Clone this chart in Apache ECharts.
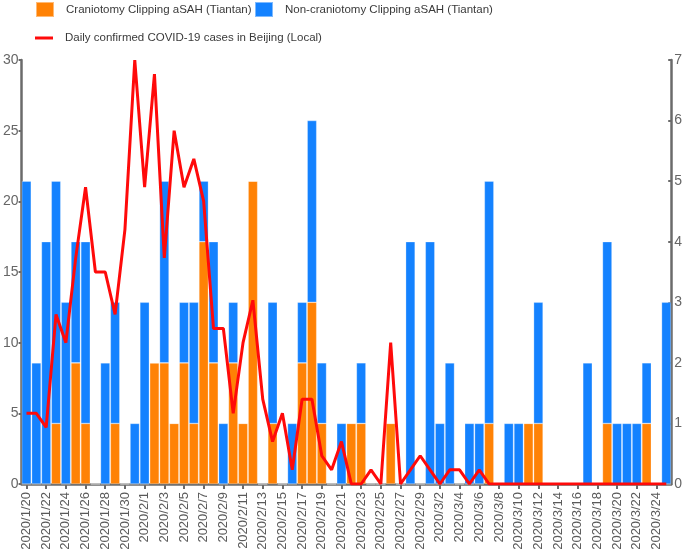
<!DOCTYPE html>
<html>
<head>
<meta charset="utf-8">
<script src="https://cdn.jsdelivr.net/npm/echarts@6/dist/echarts.min.js"></script>
<style>
  html, body { margin: 0; padding: 0; background: #fff; }
  #chart { width: 685px; height: 555px; }
</style>
</head>
<body>
<div id="chart"></div>
<script>
const dates = [
  '2020/1/20', '2020/1/21', '2020/1/22', '2020/1/23', '2020/1/24', '2020/1/25', '2020/1/26', '2020/1/27',
  '2020/1/28', '2020/1/29', '2020/1/30', '2020/1/31', '2020/2/1', '2020/2/2', '2020/2/3', '2020/2/4',
  '2020/2/5', '2020/2/6', '2020/2/7', '2020/2/8', '2020/2/9', '2020/2/10', '2020/2/11', '2020/2/12',
  '2020/2/13', '2020/2/14', '2020/2/15', '2020/2/16', '2020/2/17', '2020/2/18', '2020/2/19', '2020/2/20',
  '2020/2/21', '2020/2/22', '2020/2/23', '2020/2/24', '2020/2/25', '2020/2/26', '2020/2/27', '2020/2/28',
  '2020/2/29', '2020/3/1', '2020/3/2', '2020/3/3', '2020/3/4', '2020/3/5', '2020/3/6', '2020/3/7',
  '2020/3/8', '2020/3/9', '2020/3/10', '2020/3/11', '2020/3/12', '2020/3/13', '2020/3/14', '2020/3/15',
  '2020/3/16', '2020/3/17', '2020/3/18', '2020/3/19', '2020/3/20', '2020/3/21', '2020/3/22', '2020/3/23',
  '2020/3/24', '2020/3/25'
];

// craniotomy clipping aSAH per day (right axis)
const craniotomy = [
  0, 0, 0, 1, 0, 2, 1, 0, 0, 1, 0, 0, 0, 2, 2, 1,
  2, 1, 4, 2, 0, 2, 1, 5, 0, 1, 0, 0, 2, 3, 1, 0,
  0, 1, 1, 0, 0, 1, 0, 0, 0, 0, 0, 0, 0, 0, 0, 1,
  0, 0, 0, 1, 1, 0, 0, 0, 0, 0, 0, 1, 0, 0, 0, 1,
  0, 0
];

// non-craniotomy clipping aSAH per day (right axis)
const nonCraniotomy = [
  5, 2, 4, 4, 3, 2, 3, 0, 2, 2, 0, 1, 3, 0, 3, 0,
  1, 2, 1, 2, 1, 1, 0, 0, 0, 2, 0, 1, 1, 3, 1, 0,
  1, 0, 1, 0, 0, 0, 0, 4, 0, 4, 1, 2, 0, 1, 1, 4,
  0, 1, 1, 0, 2, 0, 0, 0, 0, 2, 0, 3, 1, 1, 1, 1,
  0, 3
];

// daily confirmed local COVID-19 cases in Beijing (left axis)
const covidCases = [
  5, 5, 4, 12, 10, 16, 21, 15, 15, 12, 18, 30, 21, 29, 16, 25,
  21, 23, 20, 11, 11, 5, 10, 13, 6, 3, 5, 1, 6, 6, 2, 1,
  3, 0, 0, 1, 0, 10, 0, 1, 2, 1, 0, 1, 1, 0, 1, 0,
  0, 0, 0, 0, 0, 0, 0, 0, 0, 0, 0, 0, 0, 0, 0, 0,
  0, 0
];

const leftTicks = { min: 0, max: 30, interval: 5 };
const rightTicks = { min: 0, max: 7, interval: 1 };

const ORANGE = '#ff8205';
const BLUE = '#1482ff';
const RED = '#ff0a0a';
const AXIS = '#6b6b6b';
const FONT = '"Liberation Sans", Arial, sans-serif';

const chart = echarts.init(document.getElementById('chart'));

// the source legend uses a narrow face; a smaller regular face keeps the same widths
const legendText = { color: '#3a3a3a', fontSize: 11.5, fontFamily: FONT, padding: [0, 0, 0, 7] };

const option = {
  animation: false,
  backgroundColor: '#fff',
  legend: [
    {
      data: ['Craniotomy Clipping aSAH (Tiantan)'],
      left: 30, top: -4,
      itemWidth: 18, itemHeight: 15,
      icon: 'rect',
      textStyle: legendText
    },
    {
      data: ['Non-craniotomy Clipping aSAH (Tiantan)'],
      left: 249, top: -4,
      itemWidth: 18, itemHeight: 15,
      icon: 'rect',
      textStyle: legendText
    },
    {
      data: ['Daily confirmed COVID-19 cases in Beijing (Local)'],
      left: 30, top: 27,
      itemWidth: 18, itemHeight: 3,
      icon: 'rect',
      textStyle: legendText
    }
  ],
  grid: { left: 20, right: 13, top: 60, bottom: 71 },
  xAxis: {
    type: 'category',
    data: dates,
    boundaryGap: true,
    axisLine: { lineStyle: { color: AXIS, width: 2.5 } },
    axisTick: { show: true, interval: 1, alignWithLabel: true, length: 5, lineStyle: { color: AXIS, width: 2 } },
    axisLabel: {
      interval: 1,
      rotate: 90,
      margin: 8,
      color: '#5a5a5a',
      fontSize: 13,
      fontFamily: FONT
    },
    splitLine: { show: false }
  },
  yAxis: [
    {
      type: 'value',
      min: leftTicks.min, max: leftTicks.max, interval: leftTicks.interval,
      position: 'left',
      axisLine: { show: true, lineStyle: { color: AXIS, width: 2.5 } },
      axisTick: { show: true, length: 3, lineStyle: { color: AXIS, width: 2 } },
      axisLabel: { color: '#666', fontSize: 14, fontFamily: FONT, margin: 3 },
      splitLine: { show: false }
    },
    {
      type: 'value',
      min: rightTicks.min, max: rightTicks.max, interval: rightTicks.interval,
      position: 'right',
      axisLine: { show: true, lineStyle: { color: AXIS, width: 2.5 } },
      axisTick: { show: true, inside: true, length: 3, lineStyle: { color: AXIS, width: 2 } },
      axisLabel: { color: '#666', fontSize: 14, fontFamily: FONT, margin: 3 },
      splitLine: { show: false }
    }
  ],
  series: [
    {
      name: 'Craniotomy Clipping aSAH (Tiantan)',
      type: 'bar',
      stack: 'asah',
      yAxisIndex: 1,
      data: craniotomy,
      barCategoryGap: '4%',
      itemStyle: { color: ORANGE, borderColor: 'rgba(255,255,255,0.45)', borderWidth: 0.6 }
    },
    {
      name: 'Non-craniotomy Clipping aSAH (Tiantan)',
      type: 'bar',
      stack: 'asah',
      yAxisIndex: 1,
      data: nonCraniotomy,
      barCategoryGap: '4%',
      itemStyle: { color: BLUE, borderColor: 'rgba(255,255,255,0.45)', borderWidth: 0.6 }
    },
    {
      name: 'Daily confirmed COVID-19 cases in Beijing (Local)',
      type: 'line',
      yAxisIndex: 0,
      data: covidCases,
      showSymbol: false,
      symbol: 'none',
      z: 5,
      itemStyle: { color: RED },
      lineStyle: { color: RED, width: 3 }
    }
  ]
};

chart.setOption(option);
</script>
</body>
</html>
